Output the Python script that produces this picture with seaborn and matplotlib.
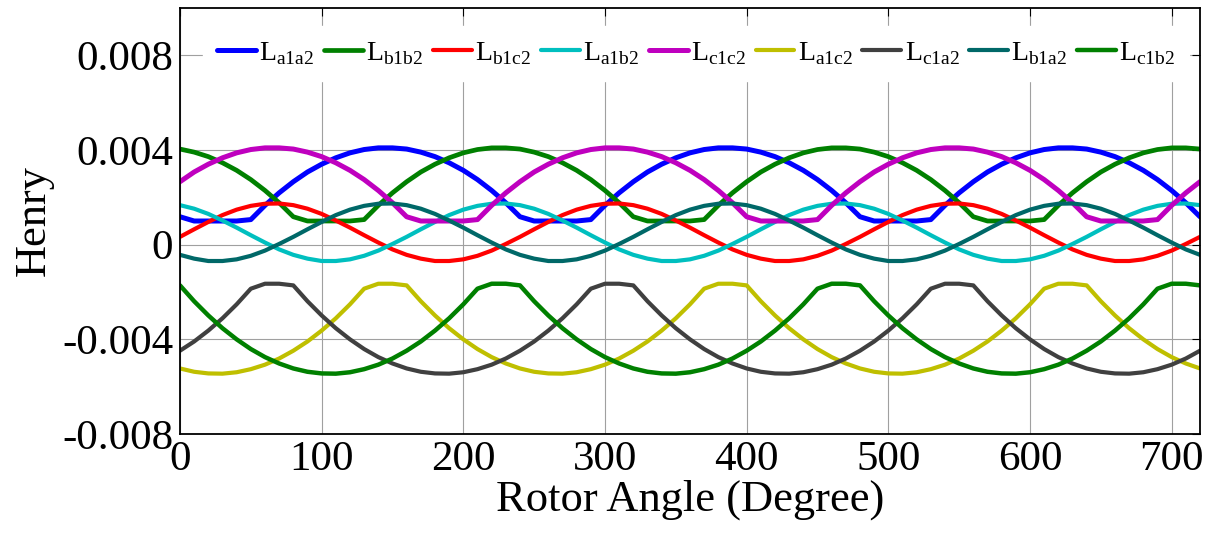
import seaborn as sns
import pandas as pd
import matplotlib
matplotlib.use('Agg')
import matplotlib.pyplot as plt

# rotor angle in degrees, inductance values in mH
angle = list(range(0, 721, 10))

L_a1a2 = [1.18, 1.00, 1.00, 1.00, 1.00, 1.06, 1.66, 2.19, 2.66, 3.07, 3.40, 3.67, 3.88, 4.02, 4.09, 4.09, 4.04, 3.91, 3.72, 3.46, 3.14, 2.75, 2.29, 1.77,
          1.18, 1.00, 1.00, 1.00, 1.00, 1.06, 1.66, 2.19, 2.66, 3.07, 3.40, 3.67, 3.88, 4.02, 4.09, 4.09, 4.04, 3.91, 3.72, 3.46, 3.14, 2.75, 2.29, 1.77,
          1.18, 1.00, 1.00, 1.00, 1.00, 1.06, 1.66, 2.19, 2.66, 3.07, 3.40, 3.67, 3.88, 4.02, 4.09, 4.09, 4.04, 3.91, 3.72, 3.46, 3.14, 2.75, 2.29, 1.77,
          1.18]
L_b1b2 = [4.04, 3.91, 3.72, 3.46, 3.14, 2.75, 2.29, 1.77, 1.18, 1.00, 1.00, 1.00, 1.00, 1.06, 1.66, 2.19, 2.66, 3.07, 3.40, 3.67, 3.88, 4.02, 4.09, 4.09,
          4.04, 3.91, 3.72, 3.46, 3.14, 2.75, 2.29, 1.77, 1.18, 1.00, 1.00, 1.00, 1.00, 1.06, 1.66, 2.19, 2.66, 3.07, 3.40, 3.67, 3.88, 4.02, 4.09, 4.09,
          4.04, 3.91, 3.72, 3.46, 3.14, 2.75, 2.29, 1.77, 1.18, 1.00, 1.00, 1.00, 1.00, 1.06, 1.66, 2.19, 2.66, 3.07, 3.40, 3.67, 3.88, 4.02, 4.09, 4.09,
          4.04]
L_b1c2 = [0.33, 0.65, 0.96, 1.25, 1.48, 1.64, 1.73, 1.74, 1.67, 1.52, 1.30, 1.02, 0.72, 0.40, 0.09, -0.20, -0.43, -0.59, -0.69, -0.69, -0.62, -0.47, -0.25, 0.03,
          0.33, 0.65, 0.96, 1.25, 1.48, 1.64, 1.73, 1.74, 1.67, 1.52, 1.30, 1.02, 0.72, 0.40, 0.09, -0.20, -0.43, -0.59, -0.69, -0.69, -0.62, -0.47, -0.25, 0.03,
          0.33, 0.65, 0.96, 1.25, 1.48, 1.64, 1.73, 1.74, 1.67, 1.52, 1.30, 1.02, 0.72, 0.40, 0.09, -0.20, -0.43, -0.59, -0.69, -0.69, -0.62, -0.47, -0.25, 0.03,
          0.33]
L_a1b2 = [1.67, 1.52, 1.30, 1.02, 0.72, 0.40, 0.09, -0.20, -0.43, -0.59, -0.69, -0.69, -0.62, -0.47, -0.25, 0.03, 0.33, 0.65, 0.96, 1.25, 1.48, 1.64, 1.73, 1.74,
          1.67, 1.52, 1.30, 1.02, 0.72, 0.40, 0.09, -0.20, -0.43, -0.59, -0.69, -0.69, -0.62, -0.47, -0.25, 0.03, 0.33, 0.65, 0.96, 1.25, 1.48, 1.64, 1.73, 1.74,
          1.67, 1.52, 1.30, 1.02, 0.72, 0.40, 0.09, -0.20, -0.43, -0.59, -0.69, -0.69, -0.62, -0.47, -0.25, 0.03, 0.33, 0.65, 0.96, 1.25, 1.48, 1.64, 1.73, 1.74,
          1.67]
L_c1c2 = [2.66, 3.07, 3.40, 3.67, 3.88, 4.02, 4.09, 4.09, 4.04, 3.91, 3.72, 3.46, 3.14, 2.75, 2.29, 1.77, 1.18, 1.00, 1.00, 1.00, 1.00, 1.06, 1.66, 2.19,
          2.66, 3.07, 3.40, 3.67, 3.88, 4.02, 4.09, 4.09, 4.04, 3.91, 3.72, 3.46, 3.14, 2.75, 2.29, 1.77, 1.18, 1.00, 1.00, 1.00, 1.00, 1.06, 1.66, 2.19,
          2.66, 3.07, 3.40, 3.67, 3.88, 4.02, 4.09, 4.09, 4.04, 3.91, 3.72, 3.46, 3.14, 2.75, 2.29, 1.77, 1.18, 1.00, 1.00, 1.00, 1.00, 1.06, 1.66, 2.19,
          2.66]
L_a1c2 = [-5.23, -5.37, -5.44, -5.45, -5.39, -5.26, -5.07, -4.81, -4.48, -4.09, -3.63, -3.11, -2.52, -1.86, -1.65, -1.65, -1.72, -2.39, -2.99, -3.53, -4.00, -4.41, -4.75, -5.02,
          -5.23, -5.37, -5.44, -5.45, -5.39, -5.26, -5.07, -4.81, -4.48, -4.09, -3.63, -3.11, -2.52, -1.86, -1.65, -1.65, -1.72, -2.39, -2.99, -3.53, -4.00, -4.41, -4.75, -5.02,
          -5.23, -5.37, -5.44, -5.45, -5.39, -5.26, -5.07, -4.81, -4.48, -4.09, -3.63, -3.11, -2.52, -1.86, -1.65, -1.65, -1.72, -2.39, -2.99, -3.53, -4.00, -4.41, -4.75, -5.02,
          -5.23]
L_c1a2 = [-4.48, -4.09, -3.63, -3.11, -2.52, -1.86, -1.65, -1.65, -1.72, -2.39, -2.99, -3.53, -4.00, -4.41, -4.75, -5.02, -5.23, -5.37, -5.44, -5.45, -5.39, -5.26, -5.07, -4.81,
          -4.48, -4.09, -3.63, -3.11, -2.52, -1.86, -1.65, -1.65, -1.72, -2.39, -2.99, -3.53, -4.00, -4.41, -4.75, -5.02, -5.23, -5.37, -5.44, -5.45, -5.39, -5.26, -5.07, -4.81,
          -4.48, -4.09, -3.63, -3.11, -2.52, -1.86, -1.65, -1.65, -1.72, -2.39, -2.99, -3.53, -4.00, -4.41, -4.75, -5.02, -5.23, -5.37, -5.44, -5.45, -5.39, -5.26, -5.07, -4.81,
          -4.48]
L_b1a2 = [-0.43, -0.59, -0.69, -0.69, -0.62, -0.47, -0.25, 0.03, 0.33, 0.65, 0.96, 1.25, 1.48, 1.64, 1.73, 1.74, 1.67, 1.52, 1.30, 1.02, 0.72, 0.40, 0.09, -0.20,
          -0.43, -0.59, -0.69, -0.69, -0.62, -0.47, -0.25, 0.03, 0.33, 0.65, 0.96, 1.25, 1.48, 1.64, 1.73, 1.74, 1.67, 1.52, 1.30, 1.02, 0.72, 0.40, 0.09, -0.20,
          -0.43, -0.59, -0.69, -0.69, -0.62, -0.47, -0.25, 0.03, 0.33, 0.65, 0.96, 1.25, 1.48, 1.64, 1.73, 1.74, 1.67, 1.52, 1.30, 1.02, 0.72, 0.40, 0.09, -0.20,
          -0.43]
L_c1b2 = [-1.72, -2.39, -2.99, -3.53, -4.00, -4.41, -4.75, -5.02, -5.23, -5.37, -5.44, -5.45, -5.39, -5.26, -5.07, -4.81, -4.48, -4.09, -3.63, -3.11, -2.52, -1.86, -1.65, -1.65,
          -1.72, -2.39, -2.99, -3.53, -4.00, -4.41, -4.75, -5.02, -5.23, -5.37, -5.44, -5.45, -5.39, -5.26, -5.07, -4.81, -4.48, -4.09, -3.63, -3.11, -2.52, -1.86, -1.65, -1.65,
          -1.72, -2.39, -2.99, -3.53, -4.00, -4.41, -4.75, -5.02, -5.23, -5.37, -5.44, -5.45, -5.39, -5.26, -5.07, -4.81, -4.48, -4.09, -3.63, -3.11, -2.52, -1.86, -1.65, -1.65,
          -1.72]

names = ['a1a2', 'b1b2', 'b1c2', 'a1b2', 'c1c2', 'a1c2', 'c1a2', 'b1a2', 'c1b2']
values = [L_a1a2, L_b1b2, L_b1c2, L_a1b2, L_c1c2, L_a1c2, L_c1a2, L_b1a2, L_c1b2]
colors = ['#0000ff', '#008000', '#ff0000', '#00bfbf', '#bf00bf', '#bfbf00', '#404040', '#006868', '#008000']
widths = [3.6, 3.4, 3.0, 3.0, 3.6, 3.0, 3.0, 3.0, 3.2]

y_ticks = [-0.008, -0.004, 0, 0.004, 0.008]
y_labels = ['-0.008', '-0.004', '0', '0.004', '0.008']

sns.set_theme(style='white')
plt.rcParams['font.family'] = ['Liberation Serif', 'DejaVu Serif']
plt.rcParams['mathtext.fontset'] = 'custom'
plt.rcParams['mathtext.rm'] = 'Liberation Serif'
plt.rcParams['axes.unicode_minus'] = False
plt.rcParams['text.color'] = 'black'
plt.rcParams['axes.labelcolor'] = 'black'

fig = plt.figure(figsize=(12.12, 5.33), dpi=100)
ax = fig.add_axes([0.1485, 0.1857, 0.8416, 0.7993])

for name, vals, color, lw in zip(names, values, colors, widths):
    df = pd.DataFrame({'Angle': angle, 'Henry': [v / 1000 for v in vals]})
    sns.lineplot(data=df, x='Angle', y='Henry', ax=ax, color=color, linewidth=lw,
                 label=r'$\mathrm{L}_{\mathrm{' + name + '}}$')

ax.set_xlim(0, 720)
ax.set_ylim(-0.008, 0.010)
ax.set_xticks(range(0, 701, 100))
ax.set_yticks(y_ticks)
ax.set_yticklabels(y_labels)
ax.grid(True, color='#a0a0a0', linewidth=0.8)
ax.tick_params(direction='in', top=True, right=True, length=6, width=0.8,
               labelsize=31, pad=5, colors='black')
for s in ax.spines.values():
    s.set_color('black')
    s.set_linewidth(1.3)

ax.set_xlabel('Rotor Angle (Degree)', fontsize=32, labelpad=0, color='black')
ax.set_ylabel('Henry', fontsize=32, labelpad=6, color='black')

leg = ax.legend(loc='center', bbox_to_anchor=(0.506, 0.893), ncol=9, fontsize=20,
                frameon=True, facecolor='white', edgecolor='white', framealpha=1,
                fancybox=False, handlelength=1.4, handletextpad=0.12,
                columnspacing=0.35, borderpad=0.5, borderaxespad=0)
for t in leg.get_texts():
    t.set_color('black')

fig.savefig('out.png', dpi=100)
